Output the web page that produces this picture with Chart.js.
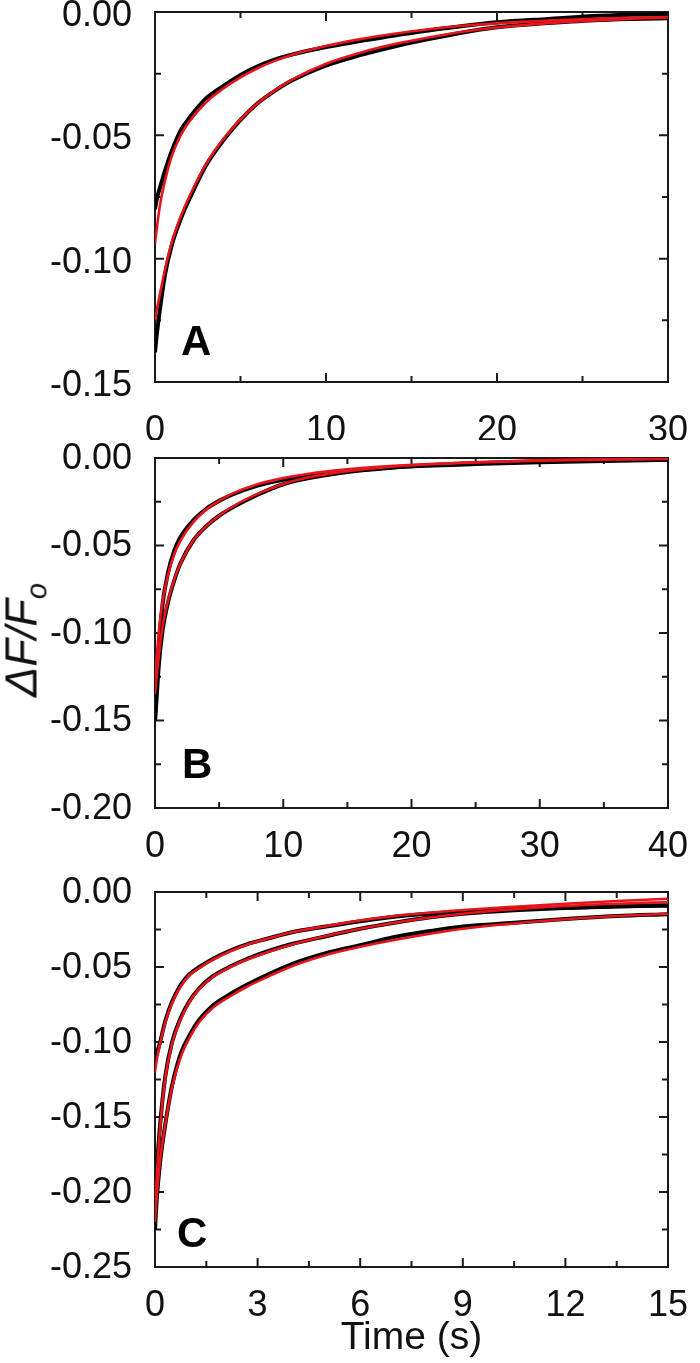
<!DOCTYPE html>
<html>
<head>
<meta charset="utf-8">
<script src="https://cdn.jsdelivr.net/npm/chart.js@4.4.1/dist/chart.umd.min.js"></script>
<style>
body{margin:0;background:#fff;}
#wrap{position:relative;width:700px;height:1363px;overflow:hidden;font-family:"Liberation Sans",Arial,sans-serif;}
.panel{position:absolute;left:0;}
#ylab{position:absolute;left:25px;top:640px;transform:translate(-50%,-50%) rotate(-90deg);font-size:45px;font-style:italic;white-space:nowrap;color:#111;line-height:1;}
#ylab sub{font-size:29px;vertical-align:-10px;}
</style>
</head>
<body>
<div id="wrap">
  <canvas id="chartA" class="panel" width="700" height="440" style="top:0"></canvas>
  <canvas id="chartB" class="panel" width="700" height="440" style="top:440px"></canvas>
  <canvas id="chartC" class="panel" width="700" height="495" style="top:868px"></canvas>
  <div id="ylab">ΔF/F<sub>o</sub></div>
</div>

<script>
// panel A
const tA = [0, 0.1, 0.3, 0.6, 1, 1.5, 2, 3, 4, 5, 6, 7, 8, 10, 12, 14, 16, 18, 20, 23, 26, 30];
const a1Data = [-0.080, -0.076, -0.071, -0.064, -0.056, -0.048, -0.043, -0.035, -0.030, -0.0255, -0.022, -0.0193, -0.0173, -0.0142, -0.0118, -0.0095, -0.0075, -0.0057, -0.0042, -0.0028, -0.0015, -0.0008];
const a1Fit = [-0.094, -0.088, -0.078, -0.068, -0.058, -0.050, -0.0445, -0.0365, -0.031, -0.0265, -0.0228, -0.0198, -0.0174, -0.0138, -0.011, -0.0088, -0.007, -0.0056, -0.0046, -0.0035, -0.0027, -0.002];
const a2Data = [-0.138, -0.131, -0.120, -0.106, -0.094, -0.084, -0.076, -0.062, -0.052, -0.0437, -0.037, -0.032, -0.0278, -0.0217, -0.0175, -0.014, -0.011, -0.0083, -0.0062, -0.0045, -0.0032, -0.0025];
const a2Fit = [-0.125, -0.121, -0.114, -0.104, -0.093, -0.083, -0.075, -0.0615, -0.0515, -0.0435, -0.037, -0.0318, -0.0275, -0.021, -0.0165, -0.013, -0.0103, -0.008, -0.0063, -0.0045, -0.0033, -0.0022];

// panel B
const tB = [0, 0.1, 0.3, 0.6, 1, 1.5, 2, 3, 4, 5, 6, 8, 10, 12, 15, 18, 21, 25, 30, 35, 40];
const b1Data = [-0.150, -0.135, -0.108, -0.083, -0.066, -0.053, -0.045, -0.0355, -0.029, -0.0245, -0.021, -0.0158, -0.0125, -0.0102, -0.0075, -0.0056, -0.0043, -0.003, -0.002, -0.0013, -0.0008];
const b1Fit = [-0.130, -0.118, -0.099, -0.082, -0.067, -0.055, -0.047, -0.0365, -0.0295, -0.0245, -0.0205, -0.015, -0.0115, -0.009, -0.0065, -0.0048, -0.0036, -0.0025, -0.0015, -0.001, -0.0006];
const b2Data = [-0.150, -0.140, -0.118, -0.098, -0.083, -0.070, -0.060, -0.047, -0.039, -0.033, -0.0285, -0.021, -0.015, -0.0115, -0.008, -0.0058, -0.0045, -0.0035, -0.0025, -0.0017, -0.001];
const b2Fit = [-0.135, -0.127, -0.113, -0.096, -0.082, -0.0695, -0.060, -0.047, -0.039, -0.033, -0.028, -0.0205, -0.0148, -0.011, -0.0075, -0.0052, -0.0037, -0.0024, -0.0013, -0.0007, -0.0003];

// panel C
const tC = [0, 0.05, 0.15, 0.3, 0.5, 0.75, 1, 1.3, 1.7, 2.2, 2.7, 3.3, 4, 5, 6, 7, 8, 9, 10.5, 12, 13.5, 15];
const c1Data = [-0.112, -0.108, -0.100, -0.086, -0.073, -0.062, -0.055, -0.050, -0.0445, -0.039, -0.0347, -0.031, -0.0268, -0.023, -0.0195, -0.0165, -0.0145, -0.013, -0.0115, -0.0105, -0.0095, -0.009];
const c1Fit = [-0.120, -0.112, -0.101, -0.087, -0.074, -0.063, -0.0555, -0.0505, -0.045, -0.0395, -0.035, -0.031, -0.0268, -0.0228, -0.019, -0.016, -0.0138, -0.012, -0.0098, -0.0078, -0.006, -0.0045];
const c2Data = [-0.200, -0.185, -0.155, -0.123, -0.100, -0.084, -0.073, -0.064, -0.056, -0.0497, -0.0445, -0.0395, -0.0347, -0.0295, -0.0245, -0.0205, -0.017, -0.0145, -0.0122, -0.0107, -0.0097, -0.009];
const c2Fit = [-0.210, -0.190, -0.157, -0.124, -0.101, -0.085, -0.0735, -0.0645, -0.0565, -0.050, -0.045, -0.040, -0.035, -0.0293, -0.0245, -0.0205, -0.0172, -0.0145, -0.0115, -0.0093, -0.0078, -0.0068];
const c3Data = [-0.225, -0.205, -0.180, -0.155, -0.129, -0.108, -0.096, -0.085, -0.0755, -0.068, -0.0617, -0.055, -0.048, -0.0408, -0.0355, -0.030, -0.0262, -0.023, -0.0205, -0.018, -0.016, -0.0148];
const c3Fit = [-0.220, -0.203, -0.179, -0.155, -0.130, -0.110, -0.0975, -0.0865, -0.077, -0.0695, -0.063, -0.0565, -0.0495, -0.042, -0.0365, -0.032, -0.028, -0.0245, -0.021, -0.0182, -0.016, -0.0145];

const INK = '#1a1a1a';
const RED = '#e8141c';
const FONT = '"Liberation Sans", Arial, sans-serif';

// box frame + inward ticks on all four sides, panel letter
const frameTicks = {
    id: 'frameTicks',
    beforeDatasetsDraw(chart, args, o){
        const ctx = chart.ctx;
        const a = chart.chartArea;
        const x = chart.scales.x, y = chart.scales.y;
        ctx.save();
        ctx.strokeStyle = INK;
        ctx.lineWidth = 2;
        ctx.strokeRect(a.left, a.top, a.right - a.left, a.bottom - a.top);
        ctx.beginPath();
        let n = Math.round((x.max - x.min) / o.xMinor);
        for (let i = 0; i <= n; i++){
            let v = x.min + i * o.xMinor;
            let px = x.getPixelForValue(v);
            let len = (i % 2 === 0) ? 9 : 6;
            ctx.moveTo(px, a.bottom); ctx.lineTo(px, a.bottom - len);
            ctx.moveTo(px, a.top); ctx.lineTo(px, a.top + len);
        }
        n = Math.round((y.max - y.min) / o.yMinor);
        for (let i = 0; i <= n; i++){
            let v = y.min + i * o.yMinor;
            let py = y.getPixelForValue(v);
            let len = (i % 2 === 0) ? 9 : 6;
            ctx.moveTo(a.left, py); ctx.lineTo(a.left + len, py);
            ctx.moveTo(a.right, py); ctx.lineTo(a.right - len, py);
        }
        ctx.stroke();
        ctx.restore();
    },
    afterDraw(chart, args, o){
        const ctx = chart.ctx;
        ctx.save();
        ctx.fillStyle = '#000';
        ctx.font = 'bold 42px ' + FONT;
        ctx.textAlign = 'left';
        ctx.textBaseline = 'alphabetic';
        ctx.fillText(o.letter, chart.chartArea.left + o.letterDx, chart.chartArea.bottom - o.letterDy);
        ctx.restore();
    }
};

function series(t, vals, color, width, order){
    return {
        data: t.map((v, i) => ({x: v, y: vals[i]})),
        borderColor: color,
        borderWidth: width,
        pointRadius: 0,
        cubicInterpolationMode: 'monotone',
        fill: false,
        order: order
    };
}

function renderPanel(id, p){
    const datasets = [];
    p.fits.forEach(f => datasets.push(series(p.t, f, RED, 2.6, 0)));
    p.traces.forEach(d => datasets.push(series(p.t, d, '#000', 4, 1)));

    new Chart(document.getElementById(id), {
        type: 'line',
        data: { datasets: datasets },
        plugins: [frameTicks],
        options: {
            responsive: false,
            animation: false,
            devicePixelRatio: 1,
            layout: { padding: { left: 0, right: 32, top: p.top, bottom: 0 } },
            plugins: {
                legend: { display: false },
                tooltip: { enabled: false },
                frameTicks: { xMinor: p.xStep / 2, yMinor: 0.025, letter: p.letter, letterDx: p.letterDx, letterDy: p.letterDy }
            },
            scales: {
                x: {
                    type: 'linear',
                    min: 0,
                    max: p.xMax,
                    grid: { display: false },
                    border: { display: false },
                    ticks: {
                        stepSize: p.xStep,
                        autoSkip: false,
                        maxRotation: 0,
                        padding: p.xPad,
                        color: '#111',
                        font: { family: FONT, size: 36 }
                    },
                    title: {
                        display: !!p.xTitle,
                        text: p.xTitle || '',
                        color: '#111',
                        padding: { top: 0, bottom: 1 },
                        font: { family: FONT, size: 39 }
                    },
                    afterFit(s){
                        s.height = p.xHeight;
                        s.paddingLeft = 0;
                        s.paddingRight = 0;
                    }
                },
                y: {
                    min: p.yMin,
                    max: 0,
                    grid: { display: false },
                    border: { display: false },
                    ticks: {
                        stepSize: 0.05,
                        padding: 15,
                        labelOffset: p.yLabelOffset,
                        color: '#111',
                        font: { family: FONT, size: 36 },
                        callback: v => (Math.abs(v) < 1e-9 ? 0 : v).toFixed(2)
                    },
                    afterFit(s){
                        s.width = 155;
                        s.paddingTop = 0;
                        s.paddingBottom = 0;
                    }
                }
            }
        }
    });
}

renderPanel('chartA', {
    t: tA, traces: [a1Data, a2Data], fits: [a1Fit, a2Fit],
    xMax: 30, xStep: 10, yMin: -0.15, letter: 'A', letterDx: 26, letterDy: 27,
    top: 12, xHeight: 58, xPad: 19, yLabelOffset: 4
});

renderPanel('chartB', {
    t: tB, traces: [b1Data, b2Data], fits: [b1Fit, b2Fit],
    xMax: 40, xStep: 10, yMin: -0.20, letter: 'B', letterDx: 27, letterDy: 30,
    top: 18, xHeight: 72, xPad: 9, yLabelOffset: 1
});

renderPanel('chartC', {
    t: tC, traces: [c1Data, c2Data, c3Data], fits: [c1Fit, c2Fit, c3Fit],
    xMax: 15, xStep: 3, yMin: -0.25, letter: 'C', letterDx: 22, letterDy: 20,
    top: 24, xHeight: 96, xPad: 9, xTitle: 'Time (s)', yLabelOffset: 1
});
</script>
</body>
</html>
